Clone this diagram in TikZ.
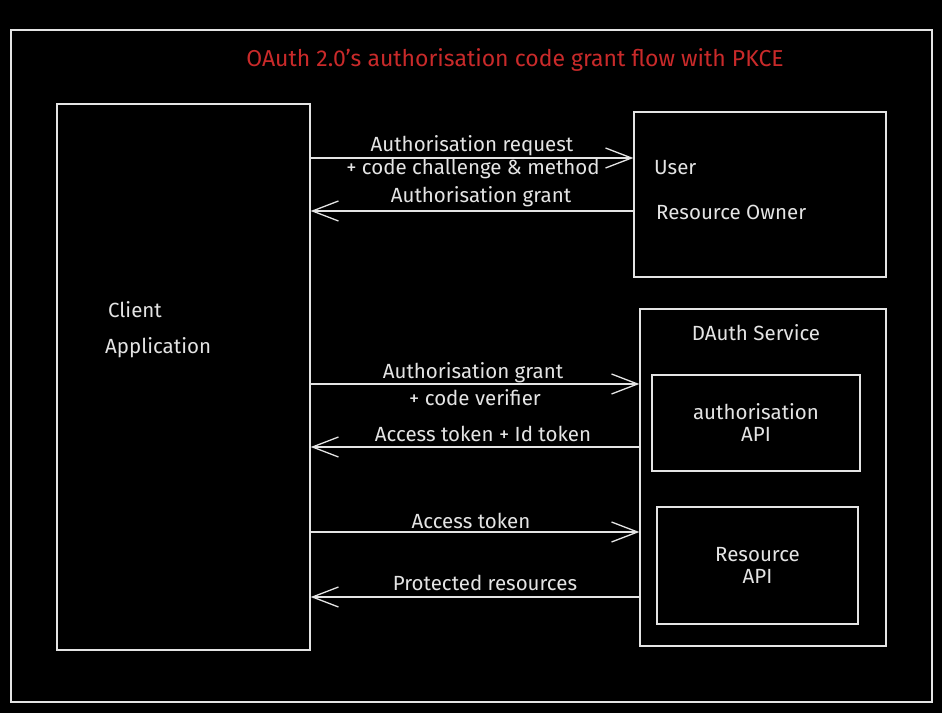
\documentclass[tikz,border=0pt]{standalone}
\usepackage{fontspec}
\setmainfont{Fira Sans}
\usetikzlibrary{arrows.meta}
\definecolor{rouge}{RGB}{201,42,42}
\definecolor{craie}{RGB}{228,228,228}
\begin{document}
\begin{tikzpicture}[x=1pt,y=1pt]
		\tikzstyle{boite}=[draw=craie, line width=1.3pt, inner sep=0pt, text=craie, align=center]
		\tikzstyle{fleche}=[draw=craie, line width=1.3pt, -{Straight Barb[length=26pt,width=20pt]}]
		\tikzstyle{texte}=[text=craie, inner sep=0pt, font=\fontsize{20.5}{24}\selectfont]
		\fill[black] (0,0) rectangle (942,713);
		\useasboundingbox (0,0) rectangle (942,713);
		\node[boite, minimum width=921pt, minimum height=672pt] (cadre) at (471.5,347) {}; % cadre
		\node[texte, text=rouge, font=\fontsize{23}{26}\selectfont] (titre) at (515,653) {OAuth 2.0's authorisation code grant flow with PKCE};
		\node[boite, minimum width=253pt, minimum height=546pt] (client) at (183.5,336) {}; % gauche
		\node[texte, anchor=west] (clientA) at (108,403) {Client};
		\node[texte, anchor=west] (clientB) at (105,365) {Application};
		\node[boite, minimum width=252pt, minimum height=165pt] (user) at (760,518.5) {}; % haut droite
		\node[texte, anchor=west] (userA) at (654,545) {User};
		\node[texte, anchor=west] (userB) at (656,501) {Resource Owner};
		\node[boite, minimum width=246pt, minimum height=337pt] (service) at (763,235.5) {}; % bas droite
		\node[texte] (serviceA) at (756,380) {DAuth Service};
		\node[boite, texte, minimum width=208pt, minimum height=96pt] (authapi) at (756,290) {authorisation\\[-2pt]API};
		\node[boite, texte, minimum width=201pt, minimum height=117pt] (resapi) at (757.5,147.5) {Resource\\[-2pt]API};
		% fleches
		\draw[fleche] (client.east |- 0,555) -- (user.west |- 0,555);
		\node[texte] (m1a) at (472,567) {Authorisation request};
		\node[texte] (m1b) at (473,544) {+ code challenge \& method};
		\draw[fleche] (user.west |- 0,502) -- (client.east |- 0,502);
		\node[texte] (m2) at (481,516) {Authorisation grant};
		\draw[fleche] (client.east |- 0,329) -- (service.west |- 0,329);
		\node[texte] (m3a) at (473,340) {Authorisation grant};
		\node[texte] (m3b) at (475,315) {+ code verifier};
		\draw[fleche] (service.west |- 0,266) -- (client.east |- 0,266);
		\node[texte] (m4) at (483,279) {Access token + Id token};
		\draw[fleche] (client.east |- 0,181) -- (service.west |- 0,181);
		\node[texte] (m5) at (471,192) {Access token};
		\draw[fleche] (service.west |- 0,116) -- (client.east |- 0,116);
		\node[texte] (m6) at (485,130) {Protected resources};
	\end{tikzpicture}
\end{document}
